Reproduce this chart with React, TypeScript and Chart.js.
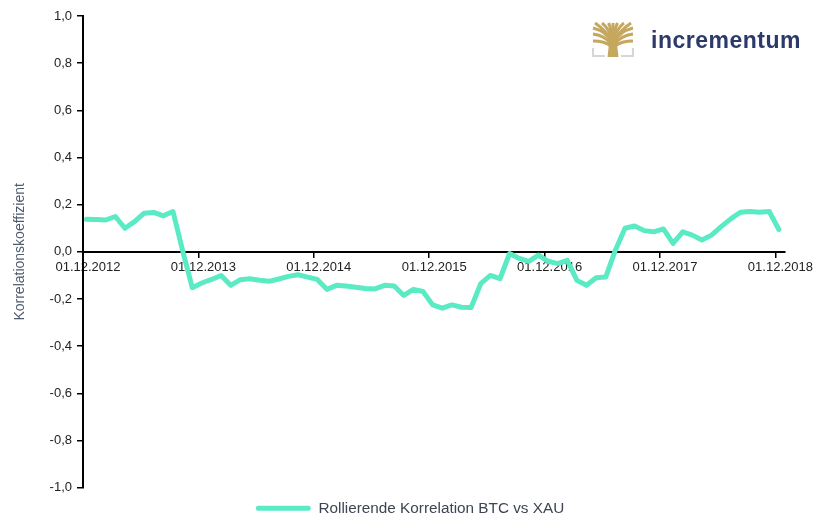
import React, { useEffect, useRef } from "react";
import { Chart, registerables } from "chart.js";

Chart.register(...registerables);

// ---- data ----
const seriesLabel = "Rollierende Korrelation BTC vs XAU";
const axisTitle = "Korrelationskoeffizient";
// monthly rolling correlation, starting Dec 2012 (sampled ~11th of each month)
const sampleDayFraction = 0.36;
const correlation = [
  0.138, 0.137, 0.135, 0.15, 0.1, 0.128, 0.164, 0.167, 0.153, 0.171,
  0.005, -0.152, -0.132, -0.117, -0.1, -0.142, -0.118, -0.114, -0.12, -0.125,
  -0.115, -0.104, -0.097, -0.107, -0.117, -0.159, -0.142, -0.145, -0.15, -0.155,
  -0.157, -0.142, -0.145, -0.185, -0.159, -0.168, -0.225, -0.239, -0.225, -0.235,
  -0.236, -0.135, -0.1, -0.114, -0.007, -0.028, -0.04, -0.014, -0.04, -0.05,
  -0.036, -0.121, -0.142, -0.11, -0.107, 0.007, 0.1, 0.11, 0.09, 0.085,
  0.097, 0.036, 0.085, 0.071, 0.05, 0.071, 0.107, 0.14, 0.168, 0.171,
  0.168, 0.171, 0.095,
];
const tickMonths = [0, 12, 24, 36, 48, 60, 72];
const tickLabels = [
  "01.12.2012",
  "01.12.2013",
  "01.12.2014",
  "01.12.2015",
  "01.12.2016",
  "01.12.2017",
  "01.12.2018",
];
const xMax = 73;
const yMin = -1;
const yMax = 1;
const yStep = 0.2;

const lineColor = "#5AEBC5";
const FONT = "'Liberation Sans', Arial, Helvetica, sans-serif";

function Logo() {
  const gold = "#C6A75E";
  const grey = "#D6D6D6";
  const branches = [
    "M19 20 C16 12 9 8 1 6",
    "M19 19 C16 10 9 5 3 1",
    "M20 18 C18 9 14 4 10 1",
    "M20 18 C20 9 18 4 16.5 1",
    "M21 18 C21 9 21 4 21 1",
    "M22 18 C22 9 24 4 25.5 1",
    "M22 18 C24 9 28 4 32 1",
    "M23 19 C26 10 33 5 39 1",
    "M23 20 C26 12 33 8 41 6",
    "M19 22 C15 16 8 13 1 12",
    "M23 22 C27 16 34 13 41 12",
    "M19 24 C14 20 7 19 1 19",
    "M23 24 C28 20 35 19 41 19",
  ];
  return (
    <div
      style={{
        position: "absolute",
        left: 592,
        top: 22,
        display: "flex",
        alignItems: "flex-start",
        pointerEvents: "none",
      }}
    >
      <svg width={42} height={35} viewBox="0 0 42 35">
        {branches.map((d, i) => (
          <path key={i} d={d} stroke={gold} strokeWidth={3} fill="none" strokeLinecap="butt" />
        ))}
        <path d="M15.5 35 L17 22 L21 16 L25 22 L26.5 35 Z" fill={gold} />
        <path d="M1 26 L1 34 L13 34" stroke={grey} strokeWidth={2.2} fill="none" />
        <path d="M41 26 L41 34 L29 34" stroke={grey} strokeWidth={2.2} fill="none" />
      </svg>
      <div
        style={{
          marginLeft: 17,
          marginTop: 4,
          fontFamily: FONT,
          fontWeight: 700,
          fontSize: 23,
          letterSpacing: 0.5,
          color: "#2C3A6B",
          lineHeight: "28px",
        }}
      >
        incrementum
      </div>
    </div>
  );
}

export default function App() {
  const ref = useRef<HTMLCanvasElement | null>(null);

  useEffect(() => {
    if (!ref.current) return;
    const points = correlation.map((v, i) => ({ x: i + sampleDayFraction, y: v }));
    const chart = new Chart(ref.current, {
      type: "line",
      data: {
        datasets: [
          {
            label: seriesLabel,
            data: points,
            borderColor: lineColor,
            backgroundColor: lineColor,
            borderWidth: 5,
            pointRadius: 0,
            tension: 0,
            borderJoinStyle: "round",
            borderCapStyle: "round",
          },
        ],
      },
      options: {
        responsive: false,
        animation: false,
        layout: { padding: { left: 0, right: 0, top: 16, bottom: -11 } },
        scales: {
          x: {
            type: "linear",
            min: 0,
            max: xMax,
            position: { y: 0 },
            afterBuildTicks: (scale: any) => {
              scale.ticks = tickMonths.map((v) => ({ value: v }));
            },
            grid: {
              display: true,
              drawOnChartArea: false,
              drawTicks: true,
              tickLength: 5,
              color: "#000",
              lineWidth: 1.5,
            },
            border: { display: true, color: "#000", width: 2 },
            ticks: {
              autoSkip: false,
              maxRotation: 0,
              padding: 3,
              labelOffset: 5,
              color: "#222",
              font: { family: FONT, size: 13 },
              callback: (v: any) => {
                const idx = tickMonths.indexOf(Number(v));
                return idx >= 0 ? tickLabels[idx] : "";
              },
            },
          },
          y: {
            min: yMin,
            max: yMax,
            afterFit: (scale: any) => {
              scale.width = 83;
            },
            grid: {
              display: true,
              drawOnChartArea: false,
              drawTicks: true,
              tickLength: 6,
              color: "#000",
              lineWidth: 1.5,
            },
            border: { display: true, color: "#000", width: 2 },
            title: {
              display: true,
              text: axisTitle,
              color: "#4F5B6E",
              font: { family: FONT, size: 14 },
              padding: { top: 12, bottom: 0 },
            },
            ticks: {
              stepSize: yStep,
              padding: 5,
              color: "#222",
              font: { family: FONT, size: 13 },
              callback: (v: any) => {
                const n = Math.abs(Number(v)) < 1e-9 ? 0 : Number(v);
                return n.toFixed(1).replace(".", ",");
              },
            },
          },
          yRight: {
            position: "right",
            min: yMin,
            max: yMax,
            afterFit: (scale: any) => {
              scale.width = 35;
            },
            grid: { display: false, drawTicks: false },
            border: { display: false },
            ticks: { display: false },
          },
        },
        plugins: {
          legend: {
            position: "bottom",
            labels: {
              boxWidth: 55,
              boxHeight: 5,
              padding: 13,
              useBorderRadius: true,
              borderRadius: 2.5,
              color: "#3D4452",
              font: { family: FONT, size: 15.3 },
              generateLabels: (chart: any) => {
                const items = Chart.defaults.plugins.legend.labels.generateLabels(chart);
                return items.map((it: any) => ({ ...it, lineWidth: 0, fillStyle: lineColor }));
              },
            },
          },
          tooltip: { enabled: false },
        },
      },
    });
    return () => chart.destroy();
  }, []);

  return (
    <div style={{ position: "fixed", left: 0, top: 0, width: 820, height: 515, background: "#fff" }}>
      <canvas ref={ref} width={820} height={515} style={{ display: "block" }} />
      <Logo />
    </div>
  );
}
